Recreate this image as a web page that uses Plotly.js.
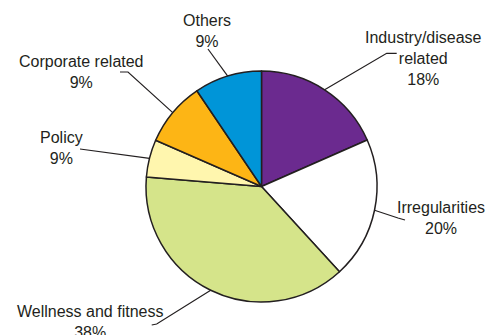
<!DOCTYPE html>
<html><head><meta charset="utf-8">
<script src="https://cdn.plot.ly/plotly-3.0.1.min.js"></script>
<style>html,body{margin:0;padding:0;background:#fff}#chart{width:500px;height:335px}</style>
</head><body><div id="chart"></div>
<script>
// Data (shares of pie as drawn; labels show printed percentages)
const categories = ["Industry/disease<br>related", "Irregularities", "Wellness and fitness", "Policy", "Corporate related", "Others"];
const values = [18.4, 19.8, 38.1, 5.25, 9.0, 9.45];
const printedPct = ["18%", "20%", "38%", "9%", "9%", "9%"];
const colors = ["#6B2A8F", "#FFFFFF", "#D5E48A", "#FFF6AE", "#FDB515", "#0095D8"];

// Layout of labels (pixel positions, top-down) and leader line bends
const W = 500, H = 335;
const cx = 261.5, cy = 186.5, R = 115.5;
const labelPos = [[423, 58], [441, 217.5], [90, 321.5], [61, 148], [81, 72], [207, 30.5]];
const leaderPts = [
  [[386.7, 53.3], [396.7, 53.3]],
  [[398, 218], [405, 220]],
  [[156.7, 324], [151.7, 325]],
  [[80, 149]],
  [[128, 72], [120, 72]],
  [[208, 49]]
];

const total = values.reduce((a, b) => a + b, 0);
const px = x => x / W, py = y => (H - y) / H;
let cum = 0;
const shapes = [], annotations = [];
values.forEach((v, i) => {
  const mid = (cum + v / 2) / total * 2 * Math.PI;
  cum += v;
  const ex = cx + R * Math.sin(mid), ey = cy - R * Math.cos(mid);
  let path = `M ${px(ex)} ${py(ey)}`;
  leaderPts[i].forEach(p => { path += ` L ${px(p[0])} ${py(p[1])}`; });
  shapes.push({type: 'path', xref: 'paper', yref: 'paper', path: path,
    line: {color: '#231f20', width: 1.2}});
  annotations.push({xref: 'paper', yref: 'paper', x: px(labelPos[i][0]), y: py(labelPos[i][1]),
    xanchor: 'center', yanchor: 'middle', showarrow: false, align: 'center',
    text: categories[i] + '<br>' + printedPct[i],
    font: {family: 'Liberation Sans, Arial, sans-serif', size: 16, color: '#231f20'}});
});

const trace = {
  type: 'pie', values: values, labels: categories.map(c => c.replace('<br>', ' ')),
  sort: false, direction: 'clockwise', rotation: 0, textinfo: 'none', hoverinfo: 'none',
  marker: {colors: colors, line: {color: '#231f20', width: 1.5}},
  domain: {x: [(cx - R) / W, (cx + R) / W], y: [py(cy + R), py(cy - R)]},
  showlegend: false
};

Plotly.newPlot('chart', [trace], {
  width: W, height: H, margin: {l: 0, r: 0, t: 0, b: 0},
  paper_bgcolor: '#fff', showlegend: false,
  shapes: shapes, annotations: annotations
}, {staticPlot: true});
</script></body></html>
